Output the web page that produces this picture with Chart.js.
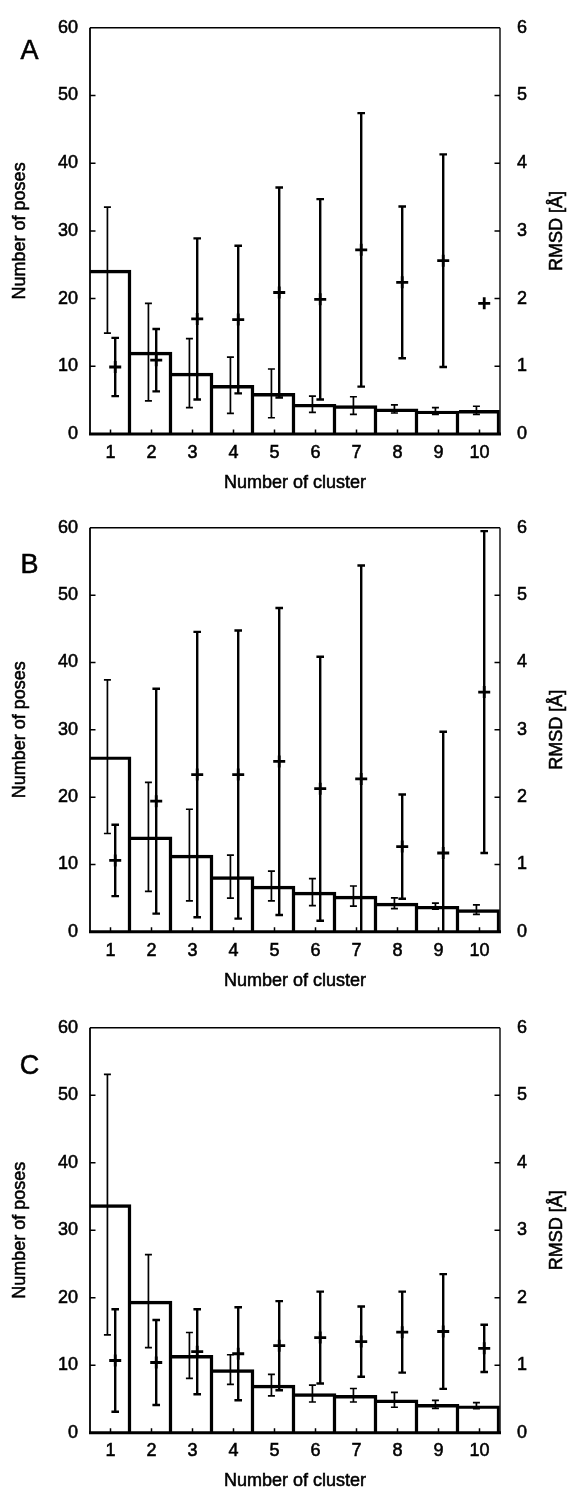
<!DOCTYPE html>
<html>
<head>
<meta charset="utf-8">
<script src="https://cdn.jsdelivr.net/npm/chart.js@4/dist/chart.umd.min.js"></script>
<style>
  html, body { margin: 0; padding: 0; background: #fff; }
  #wrap { position: relative; width: 570px; height: 1493px; }
  canvas { position: absolute; left: 0; }
</style>
</head>
<body>
<div id="wrap">
  <canvas id="panelA" width="570" height="500" style="top:0px"></canvas>
  <canvas id="panelB" width="570" height="500" style="top:500px"></canvas>
  <canvas id="panelC" width="570" height="493" style="top:1000px"></canvas>
</div>
<script>
// ---- data ----
const clusters = [1, 2, 3, 4, 5, 6, 7, 8, 9, 10];
const clusterLabels = ['1', '2', '3', '4', '5', '6', '7', '8', '9', '10'];
const poseTicks = [0, 10, 20, 30, 40, 50, 60];
const rmsdTicks = [0, 1, 2, 3, 4, 5, 6];

// Panel A
const posesA    = [24.2, 12.1, 9.0, 7.2, 6.0, 4.4, 4.2, 3.7, 3.4, 3.5];
const posesErrA = [9.3, 7.2, 5.1, 4.15, 3.6, 1.2, 1.3, 0.6, 0.5, 0.6];
const rmsdA     = [0.99, 1.09, 1.70, 1.69, 2.09, 1.99, 2.72, 2.24, 2.56, 1.93];
const rmsdErrA  = [0.43, 0.46, 1.19, 1.09, 1.55, 1.48, 2.02, 1.12, 1.57, 0];

// Panel B
const posesB    = [26.0, 14.1, 11.4, 8.2, 6.8, 5.9, 5.3, 4.25, 3.8, 3.3];
const posesErrB = [11.4, 8.1, 6.8, 3.2, 2.2, 2.0, 1.5, 0.8, 0.45, 0.7];
const rmsdB     = [1.06, 1.94, 2.335, 2.335, 2.53, 2.125, 2.27, 1.265, 1.17, 3.56];
const rmsdErrB  = [0.53, 1.67, 2.12, 2.14, 2.28, 1.96, 3.17, 0.775, 1.8, 2.39];

// Panel C
const posesC    = [33.8, 19.5, 11.45, 9.35, 7.05, 5.8, 5.55, 4.87, 4.19, 4.0];
const posesErrC = [19.3, 6.9, 3.4, 2.2, 1.6, 1.25, 1.0, 1.1, 0.6, 0.45];
const rmsdC     = [1.07, 1.04, 1.20, 1.17, 1.29, 1.41, 1.35, 1.49, 1.50, 1.25];
const rmsdErrC  = [0.76, 0.63, 0.63, 0.69, 0.66, 0.68, 0.52, 0.60, 0.85, 0.35];

const titleX  = 'Number of cluster';
const titleY  = 'Number of poses';
const titleY2 = 'RMSD [Å]';

const FONT = '"Liberation Sans", Arial, Helvetica, sans-serif';
const TEXT_STROKE = 0.55;
Chart.defaults.font.family = FONT;
Chart.defaults.font.size = 18;
Chart.defaults.color = '#000';

function heavyText(ctx, text, x, y) {
  ctx.fillText(text, x, y);
  ctx.strokeText(text, x, y);
}

// error bars, frame with inward ticks, titles and panel letter
const decorPlugin = {
  id: 'clusterDecor',
  afterDatasetsDraw(chart, args, o) {
    const { ctx, chartArea: a, scales } = chart;
    const xs = scales.x;
    ctx.save();
    ctx.strokeStyle = '#000';
    ctx.lineCap = 'butt';
    for (const s of o.errorSets) {
      const ys = scales[s.axis];
      ctx.lineWidth = s.width;
      s.values.forEach((v, i) => {
        const e = s.errors[i];
        if (!e) return;
        const px = xs.getPixelForValue(clusters[i] + s.dx);
        const top = ys.getPixelForValue(v + e);
        let bot = ys.getPixelForValue(v - e);
        const clipped = bot > a.bottom;
        if (clipped) bot = a.bottom;
        ctx.beginPath();
        ctx.moveTo(px, top); ctx.lineTo(px, bot);
        ctx.moveTo(px - s.cap, top); ctx.lineTo(px + s.cap, top);
        if (!clipped) { ctx.moveTo(px - s.cap, bot); ctx.lineTo(px + s.cap, bot); }
        ctx.stroke();
      });
    }
    // frame
    ctx.lineWidth = 1.6;
    ctx.beginPath();
    ctx.moveTo(a.left, a.top); ctx.lineTo(a.right, a.top);
    ctx.stroke();
    ctx.lineWidth = 1.8;
    ctx.beginPath();
    ctx.moveTo(a.left, a.top); ctx.lineTo(a.left, a.bottom);
    ctx.stroke();
    ctx.strokeStyle = '#222';
    ctx.lineWidth = 1.6;
    ctx.beginPath();
    ctx.moveTo(a.right, a.top); ctx.lineTo(a.right, a.bottom);
    ctx.stroke();
    ctx.strokeStyle = '#000';
    ctx.lineWidth = 3;
    ctx.beginPath();
    ctx.moveTo(a.left - 1, a.bottom); ctx.lineTo(a.right + 1, a.bottom);
    ctx.stroke();
    // inward tick marks
    ctx.lineWidth = 1.5;
    ctx.beginPath();
    scales.y.ticks.forEach(t => {
      if (t.value === scales.y.min || t.value === scales.y.max) return;
      const py = scales.y.getPixelForValue(t.value);
      ctx.moveTo(a.left, py); ctx.lineTo(a.left + 5.5, py);
    });
    scales.y2.ticks.forEach(t => {
      if (t.value === scales.y2.min || t.value === scales.y2.max) return;
      const py = scales.y2.getPixelForValue(t.value);
      ctx.moveTo(a.right, py); ctx.lineTo(a.right - 5.5, py);
    });
    xs.ticks.forEach(t => {
      const px = xs.getPixelForValue(t.value);
      ctx.moveTo(px, a.bottom); ctx.lineTo(px, a.bottom - 4.5);
    });
    ctx.stroke();
    ctx.restore();
  },
  afterDraw(chart, args, o) {
    const { ctx, chartArea: a } = chart;
    const midY = (a.top + a.bottom) / 2;
    ctx.save();
    ctx.fillStyle = '#000';
    ctx.strokeStyle = '#000';
    ctx.lineWidth = TEXT_STROKE;
    ctx.font = '18px ' + FONT;
    ctx.textAlign = 'center';
    ctx.textBaseline = 'middle';
    heavyText(ctx, titleX, (a.left + a.right) / 2, a.bottom + 48.8);
    ctx.save();
    ctx.translate(20, midY);
    ctx.rotate(-Math.PI / 2);
    heavyText(ctx, titleY, 0, 0);
    ctx.restore();
    ctx.save();
    ctx.translate(556.7, midY);
    ctx.rotate(-Math.PI / 2);
    heavyText(ctx, titleY2, 0, 0);
    ctx.restore();
    ctx.font = '27px ' + FONT;
    ctx.textBaseline = 'alphabetic';
    heavyText(ctx, o.letter, 29.5, a.top + o.letterDy);
    ctx.restore();
  }
};

const tickText = { textStrokeColor: '#000', textStrokeWidth: TEXT_STROKE };

function makePanel(cfg) {
  const canvas = document.getElementById(cfg.id);
  const canvasH = canvas.height;
  return new Chart(canvas, {
    type: 'bar',
    data: {
      datasets: [
        {
          type: 'line',
          label: 'RMSD',
          data: clusters.map((c, i) => ({ x: c + 0.115, y: cfg.rmsd[i] })),
          yAxisID: 'y2',
          xAxisID: 'x',
          showLine: false,
          pointStyle: 'cross',
          pointRadius: 6,
          pointBorderWidth: 2.8,
          pointBorderColor: '#000',
          pointBackgroundColor: '#000',
          order: 0
        },
        {
          type: 'bar',
          label: 'Number of poses',
          data: clusters.map((c, i) => ({ x: c, y: cfg.poses[i] })),
          yAxisID: 'y',
          xAxisID: 'x',
          backgroundColor: 'rgba(0,0,0,0)',
          borderColor: '#000',
          borderWidth: { top: 2.8, right: 2.8, bottom: 0, left: 0 },
          borderSkipped: false,
          categoryPercentage: 1,
          barPercentage: 1,
          order: 1
        }
      ]
    },
    options: {
      responsive: false,
      devicePixelRatio: 1,
      animation: false,
      events: [],
      layout: { padding: { top: cfg.chartTop - cfg.canvasTop, left: 0, right: 0, bottom: 0 } },
      plugins: {
        legend: { display: false },
        tooltip: { enabled: false },
        clusterDecor: {
          letter: cfg.letter,
          letterDy: cfg.letterDy,
          errorSets: [
            { values: cfg.poses, errors: cfg.posesErr, axis: 'y', dx: -0.075, width: 1.7, cap: 3.5 },
            { values: cfg.rmsd, errors: cfg.rmsdErr, axis: 'y2', dx: 0.115, width: 2.4, cap: 3.8 }
          ]
        }
      },
      scales: {
        x: {
          type: 'linear',
          position: 'bottom',
          min: 0.5,
          max: 10.5,
          offset: false,
          grid: { display: false, drawTicks: false },
          border: { display: false },
          afterBuildTicks: s => { s.ticks = clusters.map(v => ({ value: v })); },
          ticks: Object.assign({
            padding: 8,
            maxRotation: 0,
            autoSkip: false,
            callback: v => clusterLabels[clusters.indexOf(v)]
          }, tickText),
          afterFit: s => { s.height = canvasH - (cfg.chartBottom - cfg.canvasTop); }
        },
        y: {
          type: 'linear',
          position: 'left',
          min: 0,
          max: 60,
          grid: { display: false, drawTicks: false },
          border: { display: false },
          afterBuildTicks: s => { s.ticks = poseTicks.map(v => ({ value: v })); },
          ticks: Object.assign({ padding: 12 }, tickText),
          afterFit: s => { s.width = 90; }
        },
        y2: {
          type: 'linear',
          position: 'right',
          min: 0,
          max: 6,
          grid: { display: false, drawTicks: false },
          border: { display: false },
          afterBuildTicks: s => { s.ticks = rmsdTicks.map(v => ({ value: v })); },
          ticks: Object.assign({ padding: 17 }, tickText),
          afterFit: s => { s.width = 70; }
        }
      }
    },
    plugins: [decorPlugin]
  });
}

makePanel({ id: 'panelA', letter: 'A', canvasTop: 0, chartTop: 24, chartBottom: 434, letterDy: 31,
  poses: posesA, posesErr: posesErrA, rmsd: rmsdA, rmsdErr: rmsdErrA });
makePanel({ id: 'panelB', letter: 'B', canvasTop: 500, chartTop: 522.3, chartBottom: 931.8, letterDy: 44.7,
  poses: posesB, posesErr: posesErrB, rmsd: rmsdB, rmsdErr: rmsdErrB });
makePanel({ id: 'panelC', letter: 'C', canvasTop: 1000, chartTop: 1022.3, chartBottom: 1432.7, letterDy: 45.7,
  poses: posesC, posesErr: posesErrC, rmsd: rmsdC, rmsdErr: rmsdErrC });
</script>
</body>
</html>
